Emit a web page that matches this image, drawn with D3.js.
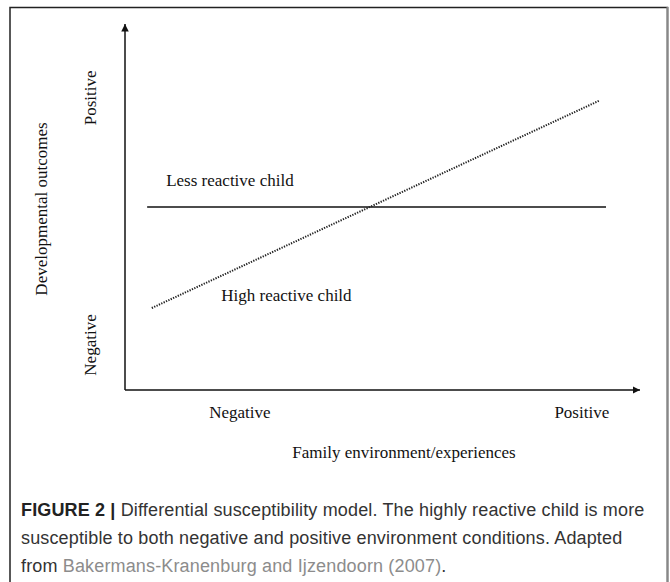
<!DOCTYPE html>
<html>
<head>
<meta charset="utf-8">
<script src="https://cdn.jsdelivr.net/npm/d3@7"></script>
<style>
  html, body { margin: 0; padding: 0; background: #fff; }
  svg { display: block; }
  .serif { font-family: "Liberation Serif", "Times New Roman", serif; fill: #111; }
  .cap { font-family: "Liberation Sans", Arial, sans-serif; fill: #333; }
</style>
</head>
<body>
<svg id="chart" width="670" height="582"></svg>
<script>
// conceptual model: two lines on an abstract 0-100 scale
var lessReactive = [[4.3, 50], [93.4, 50]];
var highReactive = [[5.2, 22.4], [92, 79]];

var xTicks = [["Negative", 22.3], ["Positive", 88.7]];
var yTicks = [["Positive", 79.8], ["Negative", 12.3]];

var lineLabels = [["Less reactive child", 8, 55.8], ["High reactive child", 18.7, 24.2]];

var captionLines = [
  [["FIGURE 2 |", "bold"], [" Differential susceptibility model. The highly reactive child is more", ""]],
  [["susceptible to both negative and positive environment conditions. Adapted", ""]],
  [["from ", ""], ["Bakermans-Kranenburg and Ijzendoorn (2007)", "link"], [".", ""]]
];

var svg = d3.select("#chart");

// outer frame
svg.append("path")
  .attr("d", "M10,590 V7.5 H667.5 V590")
  .attr("fill", "none").attr("stroke", "#222").attr("stroke-width", 1.5);
svg.append("line")
  .attr("x1", 667.5).attr("x2", 667.5).attr("y1", 7).attr("y2", 590)
  .attr("stroke", "#888").attr("stroke-width", 2);

var x = d3.scaleLinear().domain([0, 100]).range([125, 640]);
var y = d3.scaleLinear().domain([0, 100]).range([390, 24]);

// arrow heads
var defs = svg.append("defs");
defs.append("marker")
  .attr("id", "arr")
  .attr("viewBox", "0 0 10 10")
  .attr("refX", 10).attr("refY", 5)
  .attr("markerWidth", 5).attr("markerHeight", 5)
  .attr("markerUnits", "strokeWidth")
  .attr("orient", "auto")
  .append("path").attr("d", "M0,0 L10,5 L0,10 Z").attr("fill", "#111");

svg.append("line")
  .attr("x1", x(0)).attr("y1", y(0)).attr("x2", x(0)).attr("y2", y(100))
  .attr("stroke", "#111").attr("stroke-width", 1.5).attr("marker-end", "url(#arr)");
svg.append("line")
  .attr("x1", x(0)).attr("y1", y(0)).attr("x2", x(100)).attr("y2", y(0))
  .attr("stroke", "#111").attr("stroke-width", 1.5).attr("marker-end", "url(#arr)");

var line = d3.line().x(function(d){return x(d[0]);}).y(function(d){return y(d[1]);});

svg.append("path").datum(lessReactive)
  .attr("d", line).attr("fill", "none")
  .attr("stroke", "#111").attr("stroke-width", 1.6);

svg.append("path").datum(highReactive)
  .attr("d", line).attr("fill", "none")
  .attr("stroke", "#222").attr("stroke-width", 2)
  .attr("stroke-dasharray", "1.3,1.3");

// line labels
svg.selectAll("text.lbl").data(lineLabels).enter()
  .append("text").attr("class", "serif lbl")
  .attr("x", function(d){return x(d[1]);})
  .attr("y", function(d){return y(d[2]);})
  .attr("font-size", 17)
  .text(function(d){return d[0];});

// x tick labels
svg.selectAll("text.xt").data(xTicks).enter()
  .append("text").attr("class", "serif xt")
  .attr("x", function(d){return x(d[1]);})
  .attr("y", 418)
  .attr("text-anchor", "middle")
  .attr("font-size", 17)
  .text(function(d){return d[0];});

// y tick labels (rotated)
svg.selectAll("text.yt").data(yTicks).enter()
  .append("text").attr("class", "serif yt")
  .attr("transform", function(d){return "translate(96," + y(d[1]) + ") rotate(-90)";})
  .attr("text-anchor", "middle")
  .attr("font-size", 17)
  .text(function(d){return d[0];});

svg.append("text").attr("class", "serif")
  .attr("transform", "translate(47,209) rotate(-90)")
  .attr("text-anchor", "middle").attr("font-size", 17)
  .text("Developmental outcomes");

svg.append("text").attr("class", "serif")
  .attr("x", 404).attr("y", 458)
  .attr("text-anchor", "middle").attr("font-size", 17)
  .text("Family environment/experiences");

// caption
var cap = svg.append("text").attr("class", "cap")
  .attr("font-size", 18).attr("letter-spacing", 0.15);
captionLines.forEach(function(parts, i){
  parts.forEach(function(p, j){
    var t = cap.append("tspan").text(p[0]);
    if (j === 0) t.attr("x", 21).attr("y", 516 + i * 28);
    if (p[1] === "bold") t.attr("font-weight", "bold").attr("fill", "#222");
    if (p[1] === "link") t.attr("fill", "#8c8c8c");
  });
});
</script>
</body>
</html>
